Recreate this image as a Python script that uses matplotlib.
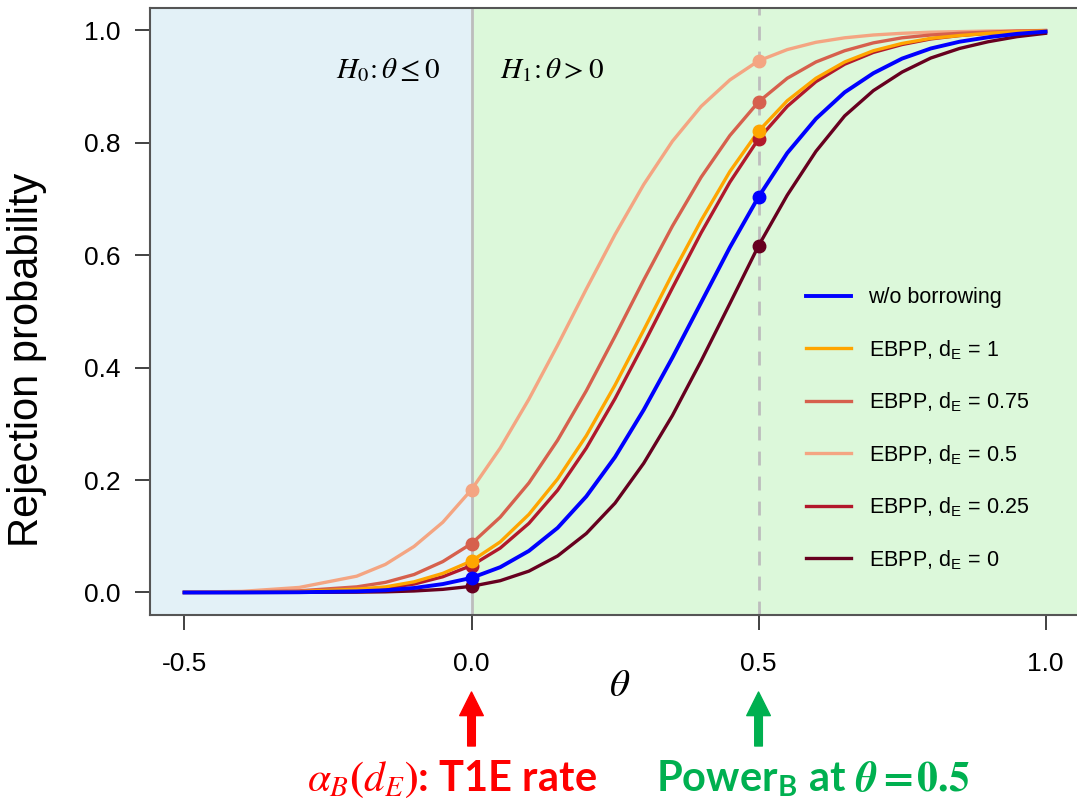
import matplotlib
matplotlib.use("Agg")
from matplotlib import pyplot as plt

# values
theta = [-0.5, -0.4, -0.3, -0.2, -0.15, -0.1, -0.05, 0.0, 0.05, 0.1, 0.15, 0.2, 0.25, 0.3,
         0.35, 0.4, 0.45, 0.5, 0.55, 0.6, 0.65, 0.7, 0.75, 0.8, 0.85, 0.9, 0.95, 1.0]

p_wo = [0.0, 0.0001, 0.0005, 0.002, 0.004, 0.008, 0.015, 0.026, 0.045, 0.074, 0.115, 0.171, 0.241, 0.325,
        0.418, 0.516, 0.614, 0.704, 0.782, 0.843, 0.890, 0.924, 0.950, 0.968, 0.980, 0.988, 0.994, 0.998]
p_d100 = [0.0001, 0.0004, 0.0015, 0.006, 0.010, 0.019, 0.034, 0.056, 0.090, 0.139, 0.202, 0.279, 0.369, 0.467,
          0.567, 0.662, 0.749, 0.821, 0.875, 0.915, 0.944, 0.964, 0.977, 0.986, 0.991, 0.995, 0.998, 0.999]
p_d075 = [0.0002, 0.0006, 0.003, 0.010, 0.018, 0.032, 0.055, 0.087, 0.134, 0.195, 0.271, 0.359, 0.456, 0.556,
          0.652, 0.739, 0.813, 0.873, 0.915, 0.944, 0.964, 0.978, 0.987, 0.992, 0.995, 0.997, 0.999, 1.0]
p_d050 = [0.0005, 0.002, 0.009, 0.029, 0.050, 0.082, 0.125, 0.183, 0.257, 0.344, 0.440, 0.540, 0.637, 0.726,
          0.803, 0.865, 0.912, 0.946, 0.966, 0.979, 0.987, 0.992, 0.995, 0.997, 0.998, 0.999, 0.9995, 1.0]
p_d025 = [0.0001, 0.0003, 0.001, 0.0045, 0.008, 0.015, 0.028, 0.048, 0.079, 0.123, 0.182, 0.257, 0.345, 0.442,
          0.542, 0.640, 0.730, 0.807, 0.865, 0.909, 0.940, 0.961, 0.975, 0.985, 0.991, 0.995, 0.997, 0.999]
p_d000 = [0.0, 0.0, 0.0002, 0.0006, 0.0012, 0.0027, 0.0056, 0.011, 0.021, 0.038, 0.065, 0.105, 0.159, 0.230,
          0.315, 0.412, 0.514, 0.617, 0.707, 0.785, 0.848, 0.893, 0.926, 0.951, 0.968, 0.980, 0.989, 0.995]

labels = ["w/o borrowing", "EBPP, d$_\\mathregular{E}$ = 1", "EBPP, d$_\\mathregular{E}$ = 0.75",
          "EBPP, d$_\\mathregular{E}$ = 0.5", "EBPP, d$_\\mathregular{E}$ = 0.25", "EBPP, d$_\\mathregular{E}$ = 0"]
colors = ["#0000ff", "#ffa500", "#d6604d", "#f4a582", "#b2182b", "#67001f"]
series = [p_wo, p_d100, p_d075, p_d050, p_d025, p_d000]
mark_at = [0.0, 0.5]
xticks = [-0.5, 0.0, 0.5, 1.0]
yticks = [0.0, 0.2, 0.4, 0.6, 0.8, 1.0]

plt.rcParams["font.family"] = ["Liberation Sans", "DejaVu Sans"]
plt.rcParams["mathtext.fontset"] = "stix"

fig = plt.figure(figsize=(10.77, 8.02), dpi=100)
ax = fig.add_axes([0.1393, 0.2332, 0.8635, 0.7568])
ax.set_xlim(-0.56, 1.06)
ax.set_ylim(-0.04, 1.04)

# background regions
ax.axvspan(-0.56, 0.0, color="#e3f1f7", zorder=0)
ax.axvspan(0.0, 1.06, color="#dcf8da", zorder=0)
ax.axvline(0.0, color="#bdbdbd", lw=2, zorder=1)
ax.axvline(0.5, color="#bdbdbd", lw=2, ls=(0, (5, 4)), zorder=1)

# draw order: darker first so orange/blue sit on top
order = [5, 4, 3, 2, 1, 0]
lines = {}
for i in order:
    lw = 2.8 if i == 0 else 2.4
    ln, = ax.plot(theta, series[i], color=colors[i], lw=lw, label=labels[i], zorder=3 + (5 - i) * 0.1)
    lines[i] = ln
    xs = [theta[theta.index(m)] for m in mark_at]
    ys = [series[i][theta.index(m)] for m in mark_at]
    ax.plot(xs, ys, "o", color=colors[i], ms=9, zorder=4 + (5 - i) * 0.1)

ax.text(-0.146, 0.929, r"$H_0\!:\theta \leq 0$", fontsize=21, ha="center", va="center")
ax.text(0.141, 0.929, r"$H_1\!:\theta > 0$", fontsize=21, ha="center", va="center")

leg = ax.legend([lines[i] for i in range(6)], labels, loc="upper left", bbox_to_anchor=(0.6846, 0.572),
                frameon=False, fontsize=15.5, handlelength=2.1, handletextpad=0.8, labelspacing=1.37)

ax.set_xticks(xticks)
ax.set_xticklabels(["%.1f" % v for v in xticks])
ax.set_yticks(yticks)
ax.set_yticklabels(["%.1f" % v for v in yticks])
ax.tick_params(axis="both", direction="out", length=11, width=1.3, labelsize=19, color="#333333")
ax.tick_params(axis="x", pad=16)
ax.tick_params(axis="y", pad=10)
for s in ax.spines.values():
    s.set_color("#555555")
    s.set_linewidth(1.5)

ax.set_ylabel("Rejection probability", fontsize=30)
ax.yaxis.set_label_coords((47 - 150) / 930, 1 - (360 - 8) / 607)
ax.set_xlabel(r"$\theta$", fontsize=28)
ax.xaxis.set_label_coords((620 - 150) / 930, -(668 - 615) / 607)

# arrows and notes under the axis
for xv, c in [(0.0, "#ff0000"), (0.5, "#00b050")]:
    ax.annotate("", xy=(xv, 1 - 692 / 802), xycoords=("data", "figure fraction"),
                xytext=(xv, 1 - 746 / 802), textcoords=("data", "figure fraction"),
                arrowprops=dict(width=5.5, headwidth=17, headlength=17, color=c, shrink=0))

fig.text(452 / 1077, 1 - 779 / 802, r"$\boldsymbol{\alpha_B(d_E)}$: T1E rate", color="#ff0000", fontsize=30,
         fontweight="bold", family=["Lato", "DejaVu Sans"], ha="center", va="center")
fig.text(813 / 1077, 1 - 779 / 802, r"Power$_\mathregular{B}$ at $\boldsymbol{\theta = 0.5}$", color="#00b050",
         fontsize=30, fontweight="bold", family=["Lato", "DejaVu Sans"], ha="center", va="center")

fig.savefig("out.png", dpi=100)
